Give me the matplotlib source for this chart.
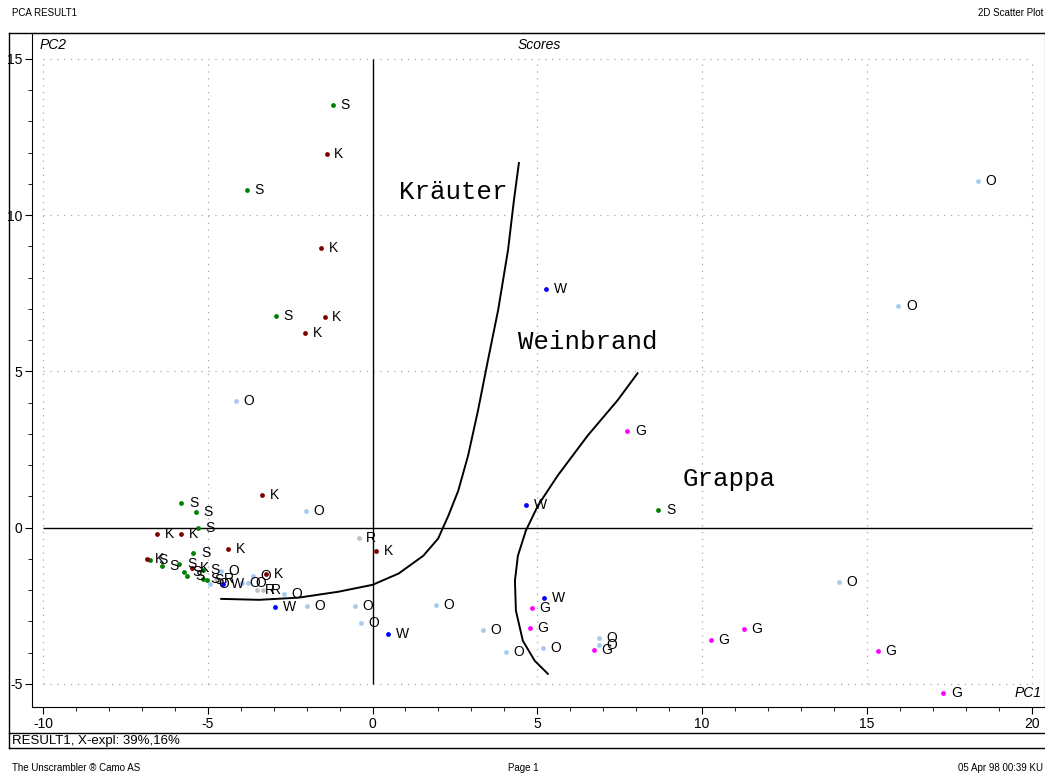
import matplotlib.pyplot as plt
from matplotlib.lines import Line2D

plt.rcParams['font.family'] = ['Liberation Sans', 'DejaVu Sans']
plt.rcParams['axes.unicode_minus'] = False

# Scores per group (PC1, PC2)
s_x = [-1.21, -3.81, -2.93, -5.80, -5.35, -5.29, -5.44, 8.67,
       -6.74, -6.40, -5.86, -5.71, -5.62, -5.14, -5.14, -5.02]
s_y = [13.53, 10.80, 6.76, 0.80, 0.51, 0.00, -0.80, 0.58,
       -1.03, -1.22, -1.15, -1.41, -1.54, -1.35, -1.63, -1.67]

k_x = [-1.39, -1.57, -1.45, -2.05, -3.35, -6.53, -5.80, -4.38, 0.12,
       -6.83, -5.47, -3.23]
k_y = [11.96, 8.94, 6.73, 6.22, 1.03, -0.19, -0.19, -0.67, -0.74,
       -0.99, -1.28, -1.47]

o_x = [18.37, 15.95, -4.14, -2.02, 14.14, 1.93, -0.54, -0.36, 3.35, 4.05,
       5.17, 6.86, 6.86, -4.59, -4.92, -3.96, -3.78, -3.63, -2.69, -1.99]
o_y = [11.09, 7.08, 4.04, 0.54, -1.73, -2.47, -2.50, -3.04, -3.27, -3.97,
       -3.85, -3.53, -3.75, -1.38, -1.79, -1.76, -1.76, -1.54, -2.12, -2.50]

w_x = [5.26, 4.65, 5.20, 0.48, -2.96, -4.53]
w_y = [7.63, 0.71, -2.24, -3.40, -2.53, -1.79]

g_x = [7.73, 4.83, 4.77, 6.71, 10.27, 11.27, 15.32, 17.31]
g_y = [3.08, -2.56, -3.21, -3.91, -3.59, -3.24, -3.94, -5.29]

r_x = [-0.42, -4.74, -3.50, -3.32]
r_y = [-0.32, -1.63, -1.99, -1.99]

groups = [("S", s_x, s_y, "#008000"), ("K", k_x, k_y, "#800000"),
          ("O", o_x, o_y, "#a6caf0"), ("W", w_x, w_y, "#0000ff"),
          ("G", g_x, g_y, "#ff00ff"), ("R", r_x, r_y, "#c0c0c0")]

# Hand-drawn class boundaries
b1_x = [-4.59, -3.44, -2.24, -1.03, 0.0, 0.79, 1.54, 1.99, 2.30, 2.60,
        2.90, 3.20, 3.50, 3.81, 4.11, 4.29, 4.44]
b1_y = [-2.28, -2.31, -2.24, -2.05, -1.83, -1.47, -0.90, -0.35, 0.38, 1.18,
        2.31, 3.75, 5.35, 6.96, 8.88, 10.48, 11.67]
b2_x = [8.04, 7.43, 6.53, 5.62, 5.02, 4.65, 4.41, 4.32, 4.35, 4.56, 4.92, 5.32]
b2_y = [4.94, 4.07, 2.95, 1.67, 0.71, -0.10, -0.90, -1.70, -2.66, -3.62,
        -4.26, -4.68]

fig = plt.figure(figsize=(10.45, 7.78), dpi=100)
ax = fig.add_axes([32 / 1045, 71 / 778, 1013 / 1045, 674 / 778])
ax.set_xlim(-10.33, 20.4)
ax.set_ylim(-5.74, 15.83)

# dotted grid and solid zero lines
for gx in [-10, -5, 5, 10, 15, 20]:
    ax.vlines(gx, -5, 15, colors="#a8a8a8", linestyles=(0, (1, 4.5)), lw=0.9)
for gy in [-5, 5, 10, 15]:
    ax.hlines(gy, -10, 20, colors="#a8a8a8", linestyles=(0, (1, 4.5)), lw=0.9)
ax.vlines(0, -5, 15, colors="black", lw=1)
ax.hlines(0, -10, 20, colors="black", lw=1)

for name, xs, ys, col in groups:
    ax.scatter(xs, ys, s=12, color=col, zorder=3, linewidths=0)
    for x, y in zip(xs, ys):
        ax.annotate(name, (x, y), xytext=(5.5, 0), textcoords="offset points",
                    va="center", ha="left", fontsize=10, zorder=4)

ax.plot(b1_x, b1_y, color="black", lw=1.4)
ax.plot(b2_x, b2_y, color="black", lw=1.4)

mono = ["Liberation Mono", "DejaVu Sans Mono"]
ax.text(0.8, 10.75, "Kräuter", family=mono, fontsize=18.5, va="center")
ax.text(4.4, 5.95, "Weinbrand", family=mono, fontsize=18.5, va="center")
ax.text(9.4, 1.57, "Grappa", family=mono, fontsize=18.5, va="center")

ax.set_xticks([-10, -5, 0, 5, 10, 15, 20])
ax.set_yticks([-5, 0, 5, 10, 15])
ax.set_xticks(range(-10, 21), minor=True)
ax.set_yticks(range(-5, 16), minor=True)
ax.tick_params(which="both", direction="out", labelsize=10)
ax.tick_params(which="major", length=5)
ax.tick_params(which="minor", length=3)
ax.tick_params(axis="x", pad=2)
ax.tick_params(axis="y", pad=2)

ax.text(-10.1, 15.45, "PC2", fontsize=10, style="italic", va="center")
ax.text(5.05, 15.45, "Scores", fontsize=10, style="italic", va="center", ha="center")
ax.text(20.3, -5.3, "PC1", fontsize=10, style="italic", va="center", ha="right")

# outer frame
def fline(x0, y0, x1, y1):
    fig.add_artist(Line2D([x0 / 1045, x1 / 1045], [1 - y0 / 778, 1 - y1 / 778],
                          color="black", lw=1))

fline(9, 33, 1045, 33)
fline(9, 33, 9, 748)
fline(9, 733, 1045, 733)
fline(9, 748, 1045, 748)

fig.text(12 / 1045, 1 - 741 / 778, "RESULT1, X-expl: 39%,16%", fontsize=9.5,
         va="center")
fig.text(12 / 1045, 1 - 13 / 778, "PCA RESULT1", fontsize=7, va="center")
fig.text(1043 / 1045, 1 - 13 / 778, "2D Scatter Plot", fontsize=7,
         va="center", ha="right")
fig.text(12 / 1045, 1 - 768 / 778, "The Unscrambler ® Camo AS", fontsize=7,
         va="center")
fig.text(523 / 1045, 1 - 768 / 778, "Page 1", fontsize=7, va="center",
         ha="center")
fig.text(1043 / 1045, 1 - 768 / 778, "05 Apr 98 00:39 KU", fontsize=7,
         va="center", ha="right")

fig.savefig("out.png", dpi=100)
